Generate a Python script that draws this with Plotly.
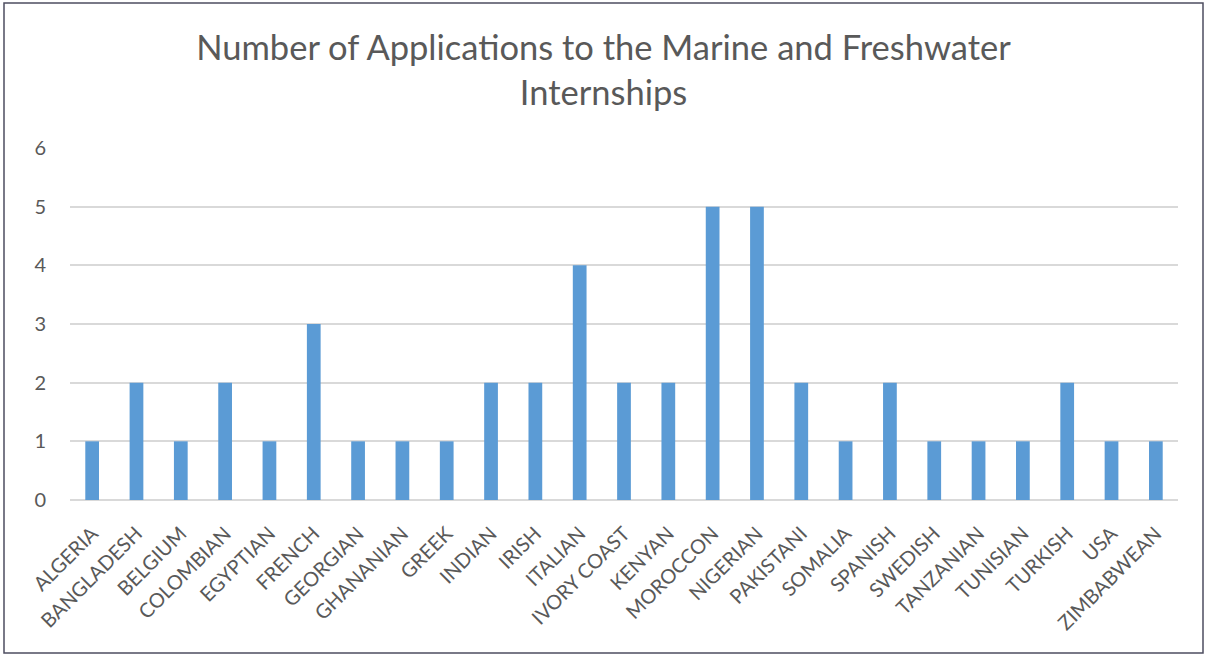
import plotly.graph_objects as go

# Applications per nationality
nationalities = [
    "ALGERIA", "BANGLADESH", "BELGIUM", "COLOMBIAN", "EGYPTIAN", "FRENCH",
    "GEORGIAN", "GHANANIAN", "GREEK", "INDIAN", "IRISH", "ITALIAN",
    "IVORY COAST", "KENYAN", "MOROCCON", "NIGERIAN", "PAKISTANI", "SOMALIA",
    "SPANISH", "SWEDISH", "TANZANIAN", "TUNISIAN", "TURKISH", "USA", "ZIMBABWEAN",
]
applications = [1, 2, 1, 2, 1, 3, 1, 1, 1, 2, 2, 4, 2, 2, 5, 5, 2, 1, 2, 1, 1, 1, 2, 1, 1]
y_ticks = [0, 1, 2, 3, 4, 5, 6]

TEXT = "#595959"
GRID = "#d9d9d9"
BAR = "#5b9bd5"
FONT = "Lato"

fig = go.Figure(
    go.Bar(
        x=nationalities,
        y=applications,
        marker=dict(color=BAR, line=dict(width=0)),
    )
)

W, H = 1207, 655
L, R, T, B = 70, 29, 148, 155
pw, ph = W - L - R, H - T - B


def px_x(v):
    return (v - L) / pw


def px_y(v):
    return (H - B - v) / ph


fig.update_layout(
    width=W,
    height=H,
    margin=dict(l=L, r=R, t=T, b=B),
    paper_bgcolor="white",
    plot_bgcolor="white",
    bargap=0.69,
    showlegend=False,
    font=dict(family=FONT, color=TEXT),
    title=dict(
        text="Number of Applications to the Marine and Freshwater<br>Internships",
        x=0.5,
        xanchor="center",
        y=1 - 60 / H,
        yanchor="middle",
        font=dict(family=FONT, size=34.5, color=TEXT),
    ),
    xaxis=dict(
        tickangle=-45,
        tickfont=dict(family=FONT, size=20, color=TEXT),
        showgrid=False,
        showline=False,
        ticks="",
        ticklabelstandoff=17,
    ),
    yaxis=dict(
        range=[0, 6],
        tickvals=y_ticks,
        tickfont=dict(family=FONT, size=20, color=TEXT),
        showgrid=True,
        gridcolor=GRID,
        gridwidth=1.5,
        zeroline=True,
        zerolinecolor=GRID,
        zerolinewidth=1.5,
        ticks="",
        ticklen=0,
        ticklabelstandoff=23,
        showline=False,
    ),
    shapes=[
        dict(
            type="rect",
            xref="paper",
            yref="paper",
            x0=px_x(4),
            x1=px_x(1203),
            y0=px_y(653),
            y1=px_y(3),
            line=dict(color="#4e4e60", width=1.5),
            fillcolor="rgba(0,0,0,0)",
            layer="above",
        )
    ],
)

fig.write_html("out.html")
